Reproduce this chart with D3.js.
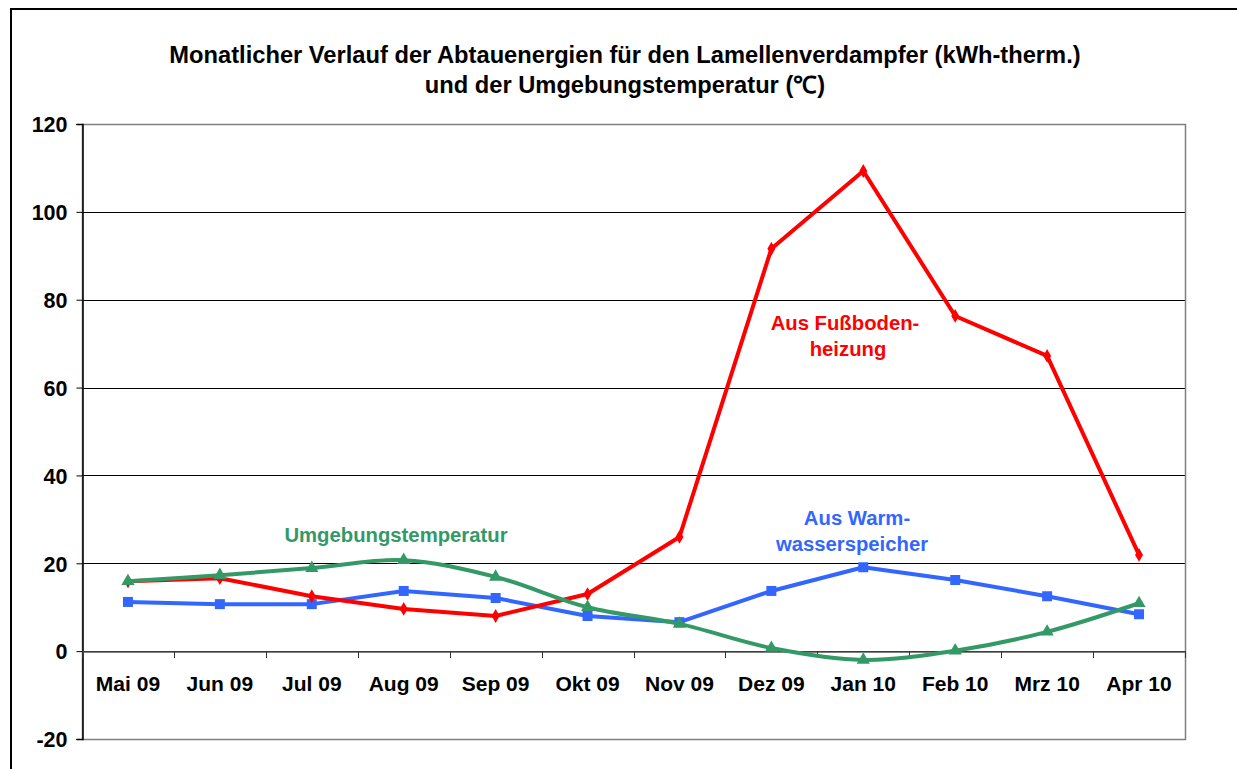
<!DOCTYPE html>
<html><head><meta charset="utf-8">
<script src="https://cdn.jsdelivr.net/npm/d3@7"></script>
<style>body{margin:0;background:#fff}svg{display:block;font-family:"Liberation Sans",Arial,sans-serif}</style>
</head><body><svg id="c" width="1237" height="769"></svg>
<script>
const categories = ["Mai 09","Jun 09","Jul 09","Aug 09","Sep 09","Okt 09","Nov 09","Dez 09","Jan 10","Feb 10","Mrz 10","Apr 10"];
const fussboden = [15.9,16.6,12.5,9.6,8.0,13.0,26.0,91.6,109.3,76.3,67.2,21.9];
const warmwasser = [11.2,10.7,10.7,13.7,12.1,8.0,6.6,13.7,19.1,16.2,12.5,8.4];
const temperatur = [15.9,17.3,18.9,20.7,16.9,10.0,6.2,0.7,-2.0,0.1,4.4,10.9];
const yTicks = [-20,0,20,40,60,80,100,120];
const titleLines = ["Monatlicher Verlauf der Abtauenergien für den Lamellenverdampfer (kWh-therm.)","und der Umgebungstemperatur (℃)"];

const svg = d3.select("#c");
const L=82,R=1185,T=124,B=739;
const x = d3.scaleBand().domain(categories).range([L,R]);
const y = d3.scaleLinear().domain([-20,120]).range([B,T]);
const cx = d => x(d)+x.bandwidth()/2;
const FONT = "Liberation Sans, Arial, sans-serif";

// outer frame
svg.append("path").attr("d",`M11,769V9H1237`).attr("fill","none").attr("stroke","#000").attr("stroke-width",2);

// title
svg.selectAll("text.title").data(titleLines).join("text").attr("class","title")
  .attr("x",625).attr("y",(d,i)=>63+i*30).attr("text-anchor","middle")
  .attr("font-size",23.7).attr("font-weight","bold").text(d=>d);

// gridlines
svg.append("g").selectAll("line").data(yTicks.filter(v=>v>-20&&v<120)).join("line")
  .attr("x1",L).attr("x2",R).attr("y1",d=>Math.round(y(d))+0.5).attr("y2",d=>Math.round(y(d))+0.5)
  .attr("stroke","#000").attr("stroke-width",1);

// plot frame (gray)
svg.append("rect").attr("x",L+0.5).attr("y",T+0.5).attr("width",R-L).attr("height",B-T)
  .attr("fill","none").attr("stroke","#808080").attr("stroke-width",1.5);

// y axis
const ya = svg.append("g").attr("transform",`translate(${L+0.5},0)`)
  .call(d3.axisLeft(y).tickValues(yTicks).tickSize(6).tickPadding(9).tickFormat(d=>String(d)));
ya.select(".domain").attr("stroke","#000").attr("stroke-width",1.5);
ya.selectAll(".tick line").attr("stroke","#000");
ya.selectAll("text").attr("font-size",21.5).attr("font-weight","bold").attr("fill","#000")
  .attr("font-family",FONT).attr("dy","0.36em");

// x axis at zero
const xa = svg.append("g").attr("transform",`translate(0,${Math.round(y(0))+0.5})`)
  .call(d3.axisBottom(x).tickSize(0).tickPadding(0));
xa.select(".domain").attr("stroke","#555").attr("stroke-width",1.5);
xa.selectAll("text").attr("font-size",21).attr("font-weight","bold").attr("fill","#000")
  .attr("font-family",FONT).attr("y",39).attr("dy",0);
svg.append("g").selectAll("line").data(d3.range(categories.length+1)).join("line")
  .attr("x1",i=>Math.round(L+i*x.step())+0.5).attr("x2",i=>Math.round(L+i*x.step())+0.5)
  .attr("y1",Math.round(y(0))).attr("y2",Math.round(y(0))+7).attr("stroke","#333").attr("stroke-width",1);

// series
const series = [
  {vals:warmwasser,color:"#3366FF",curve:d3.curveLinear,sym:d3.symbolSquare,size:100},
  {vals:fussboden,color:"#FF0000",curve:d3.curveLinear,sym:d3.symbolDiamond,size:55},
  {vals:temperatur,color:"#339966",curve:d3.curveCatmullRom.alpha(0.5),sym:d3.symbolTriangle,size:75},
];
series.forEach(s=>{
  const line = d3.line().x((d,i)=>cx(categories[i])).y(d=>y(d)).curve(s.curve);
  svg.append("path").datum(s.vals).attr("d",line).attr("fill","none").attr("stroke",s.color)
    .attr("stroke-width",4).attr("stroke-linejoin","round");
  svg.append("g").selectAll("path").data(s.vals).join("path")
    .attr("transform",(d,i)=>`translate(${cx(categories[i])},${y(d)})`)
    .attr("d",d3.symbol(s.sym,s.size)).attr("fill",s.color);
});

// annotations
const ann = [
  {t:"Aus Fußboden-",x:845,y:330,c:"#FF0000"},
  {t:"heizung",x:848,y:356,c:"#FF0000"},
  {t:"Umgebungstemperatur",x:396,y:542,c:"#339966"},
  {t:"Aus Warm-",x:857,y:525,c:"#3366FF"},
  {t:"wasserspeicher",x:852,y:551,c:"#3366FF"},
];
svg.selectAll("text.ann").data(ann).join("text").attr("class","ann")
  .attr("x",d=>d.x).attr("y",d=>d.y).attr("text-anchor","middle").attr("font-size",20.3)
  .attr("font-weight","bold").attr("fill",d=>d.c).text(d=>d.t);
</script></body></html>
